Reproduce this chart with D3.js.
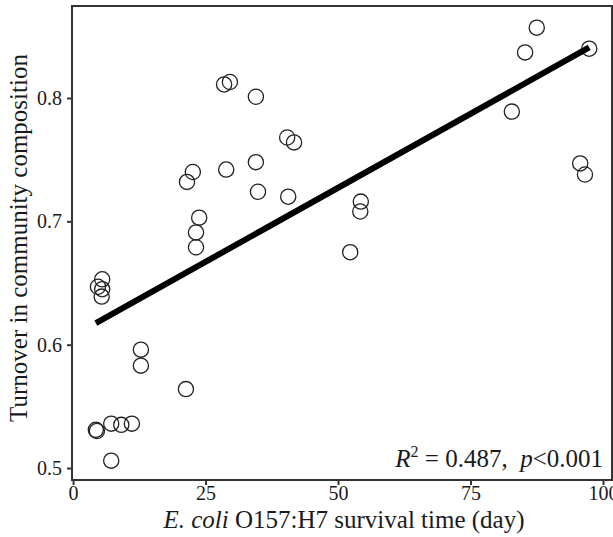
<!DOCTYPE html>
<html>
<head>
<meta charset="utf-8">
<script src="https://cdn.jsdelivr.net/npm/d3@7"></script>
<style>
  body { margin: 0; background: #fff; }
  text { font-family: "Liberation Serif", "Times New Roman", serif; fill: #1a1a1a; }
</style>
</head>
<body>
<svg id="chart" width="613" height="537"></svg>
<script>
// survival time (day) and turnover
var survivalDays = [4.3, 4.5, 7.2, 9.1, 11.1, 7.2, 12.8, 12.8, 21.3,
  5.5, 4.7, 5.5, 5.4, 21.5, 22.6, 23.8, 23.2, 23.2, 28.5, 29.6, 28.9,
  34.5, 34.5, 34.9, 40.4, 41.7, 40.6, 52.3, 54.3, 54.2, 82.8, 85.3,
  87.5, 95.7, 96.6, 97.4];
var turnover = [0.531, 0.530, 0.536, 0.535, 0.536, 0.506, 0.596, 0.583, 0.564,
  0.653, 0.647, 0.645, 0.639, 0.732, 0.740, 0.703, 0.691, 0.679, 0.811, 0.813, 0.742,
  0.801, 0.748, 0.724, 0.768, 0.764, 0.720, 0.675, 0.716, 0.708, 0.789, 0.837,
  0.857, 0.747, 0.738, 0.840];
var xTicks = [0, 25, 50, 75, 100];
var yTicks = [0.5, 0.6, 0.7, 0.8];
// fitted line: intercept, slope
var fit = [0.6072, 0.0024];

var svg = d3.select("#chart");
var pLeft = 72, pRight = 612, pTop = 6, pBottom = 480;

var x = d3.scaleLinear().domain([-0.2, 101.7]).range([pLeft, pRight]);
var y = d3.scaleLinear().domain([0.4903, 0.8746]).range([pBottom, pTop]);

// axes
var xAxis = svg.append("g")
  .attr("transform", "translate(0," + pBottom + ")")
  .call(d3.axisBottom(x).tickValues(xTicks).tickSize(5).tickPadding(1).tickFormat(d3.format("d")));
var yAxis = svg.append("g")
  .attr("transform", "translate(" + pLeft + ",0)")
  .call(d3.axisLeft(y).tickValues(yTicks).tickSize(5).tickPadding(5).tickFormat(d3.format(".1f")));

[xAxis, yAxis].forEach(function (a) {
  a.select(".domain").remove();
  a.selectAll(".tick line").attr("stroke", "#333").attr("stroke-width", 2);
  a.selectAll(".tick text")
    .style("font-size", "20px")
    .style("font-family", "Liberation Serif")
    .attr("fill", "#333");
});

// panel border
svg.append("rect")
  .attr("x", pLeft).attr("y", pTop)
  .attr("width", pRight - pLeft).attr("height", pBottom - pTop)
  .attr("fill", "none").attr("stroke", "#333").attr("stroke-width", 2);

// points
svg.append("g")
  .selectAll("circle")
  .data(survivalDays)
  .enter()
  .append("circle")
  .attr("cx", function (d) { return x(d); })
  .attr("cy", function (d, i) { return y(turnover[i]); })
  .attr("r", 7.6)
  .attr("fill", "none")
  .attr("stroke", "#222")
  .attr("stroke-width", 1.3);

// regression line over range of data
var xMin = d3.min(survivalDays), xMax = d3.max(survivalDays);
svg.append("line")
  .attr("x1", x(xMin)).attr("y1", y(fit[0] + fit[1] * xMin))
  .attr("x2", x(xMax)).attr("y2", y(fit[0] + fit[1] * xMax))
  .attr("stroke", "#000")
  .attr("stroke-width", 6);

// annotation
var ann = svg.append("text")
  .attr("x", 603).attr("y", 467)
  .attr("text-anchor", "end")
  .style("font-size", "25px");
ann.append("tspan").style("font-style", "italic").text("R");
ann.append("tspan").attr("dy", -10).style("font-size", "16px").text("2");
ann.append("tspan").attr("dy", 10).text(" = 0.487,\u2002");
ann.append("tspan").style("font-style", "italic").text("p");
ann.append("tspan").text("<0.001");

// axis titles
var xt = svg.append("text")
  .attr("x", 344).attr("y", 528)
  .attr("text-anchor", "middle")
  .style("font-size", "25px");
xt.append("tspan").style("font-style", "italic").text("E. coli");
xt.append("tspan").text(" O157:H7 survival time (day)");

svg.append("text")
  .attr("transform", "translate(27," + 238 + ") rotate(-90)")
  .attr("text-anchor", "middle")
  .style("font-size", "25px")
  .text("Turnover in community composition");
</script>
</body>
</html>
